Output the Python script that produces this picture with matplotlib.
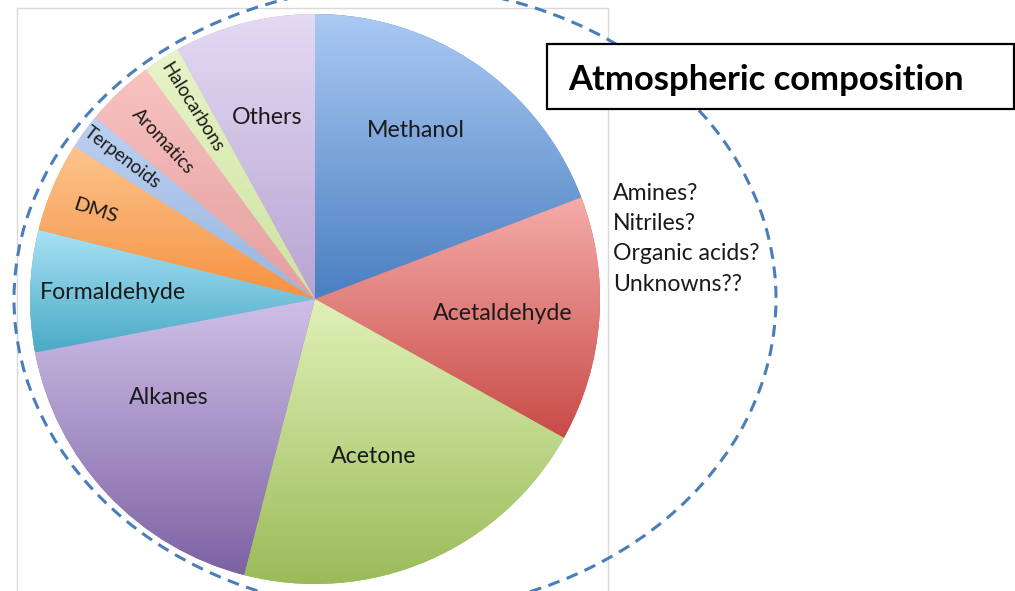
import numpy as np
import matplotlib
matplotlib.use('Agg')
import matplotlib.pyplot as plt
from matplotlib.patches import Ellipse, Rectangle
from matplotlib.colors import LinearSegmentedColormap

# ---------------- data ----------------
categories = ['Methanol', 'Acetaldehyde', 'Acetone', 'Alkanes', 'Formaldehyde',
              'DMS', 'Terpenoids', 'Aromatics', 'Halocarbons', 'Others']
shares = [19.2, 13.9, 20.9, 18.0, 6.9, 5.1, 2.0, 3.9, 2.1, 8.0]
unknown_classes = ['Amines?', 'Nitriles?', 'Organic acids?', 'Unknowns??']
title = 'Atmospheric composition'

# ---------------- style ----------------
top_colors = ['#abc9f3', '#f5aca9', '#e0f1b8', '#cfc0e8', '#a9e2f5',
              '#fcc48f', '#bdd1f1', '#f8c3c1', '#e7f4c8', '#e4daf3']
bottom_colors = ['#4a7fc1', '#c84b47', '#9bbb59', '#7d62a3', '#4aaac6',
                 '#f69240', '#98b6df', '#e39f9f', '#cfe2a2', '#b7a4d2']
label_dist = [0.69, 0.66, 0.59, 0.62, 0.71, 0.83, 0.84, 0.77, 0.80, 0.66]
label_shift = [3.8, -0.4, -2.7, -9.3, -0.2, 1.4, -0.2, 0.6, 0.1, 0.5]
label_rot = [0, 0, 0, 0, 0, -18, -37, -47, -58, 0]
label_scale = [1, 1, 1, 1, 1, 0.88, 0.8, 0.8, 0.8, 1]

W, H = 1015, 591
FONT = ['Lato', 'DejaVu Sans']
plt.rcParams['font.family'] = FONT

fig = plt.figure(figsize=(W / 100, H / 100), dpi=100)
ax = fig.add_axes([0, 0, 1, 1])


def py(y):
    return H - y


renderer = fig.canvas.get_renderer()


def fit_size(s, target, weight='normal', base=20):
    t = fig.text(0, 0, s, fontsize=base, fontweight=weight)
    w = t.get_window_extent(renderer=renderer).width
    t.remove()
    return base * target / w


# chart-area frame
ax.add_patch(Rectangle((17, -10), 608 - 17, py(8) + 10, fill=False,
                       edgecolor='#d9d9d9', linewidth=1.0, zorder=0.5))

# pie
cx, cy, R = 315, py(299), 285
wedges, _ = ax.pie(shares, startangle=90, counterclock=False, center=(cx, cy),
                   radius=R, wedgeprops=dict(linewidth=0, edgecolor='none'),
                   frame=True)
for w, ct, cb in zip(wedges, top_colors, bottom_colors):
    w.set_facecolor(cb)
    ext = w.get_path().get_extents()
    grad = np.linspace(0, 1, 256).reshape(-1, 1)
    cmap = LinearSegmentedColormap.from_list('g', [cb, ct])
    im = ax.imshow(grad, cmap=cmap, origin='lower', aspect='auto',
                   extent=(ext.x0, ext.x1, ext.y0, ext.y1),
                   interpolation='bilinear', zorder=w.get_zorder() + 0.1)
    im.set_clip_path(w)

# labels
main_size = fit_size('Acetaldehyde', 140)
for w, name, d, sh, rot, sc in zip(wedges, categories, label_dist, label_shift,
                                   label_rot, label_scale):
    ang = np.deg2rad((w.theta1 + w.theta2) / 2 + sh)
    x = cx + d * R * np.cos(ang)
    y = cy + d * R * np.sin(ang)
    ax.text(x, y, name, ha='center', va='center', rotation=rot,
            rotation_mode='anchor', fontsize=main_size * sc,
            color='#1a1a1a', zorder=5)

# dashed ellipse
ax.add_patch(Ellipse((395, py(299)), 762, 626, fill=False, edgecolor='#4a7ebb',
                     linewidth=2.2, linestyle=(0, (3.9, 2.5)), zorder=3))

# title box
ax.add_patch(Rectangle((547, py(109)), 1014 - 547, 109 - 44, facecolor='white',
                       edgecolor='black', linewidth=1.6, zorder=6))
tsize = fit_size(title, 395, weight='bold')
ax.text(568, py(90), title, fontsize=tsize, fontweight='bold', ha='left',
        va='baseline', color='black', zorder=7)

# side text
ssize = fit_size('Organic acids?', 147)
for i, s in enumerate(unknown_classes):
    ax.text(613, py(200 + 30.2 * i), s, fontsize=ssize, ha='left',
            va='baseline', color='#1a1a1a', zorder=7)

ax.set_xlim(0, W)
ax.set_ylim(0, H)
ax.set_aspect('auto')
ax.axis('off')
fig.savefig('out.png', dpi=100)
